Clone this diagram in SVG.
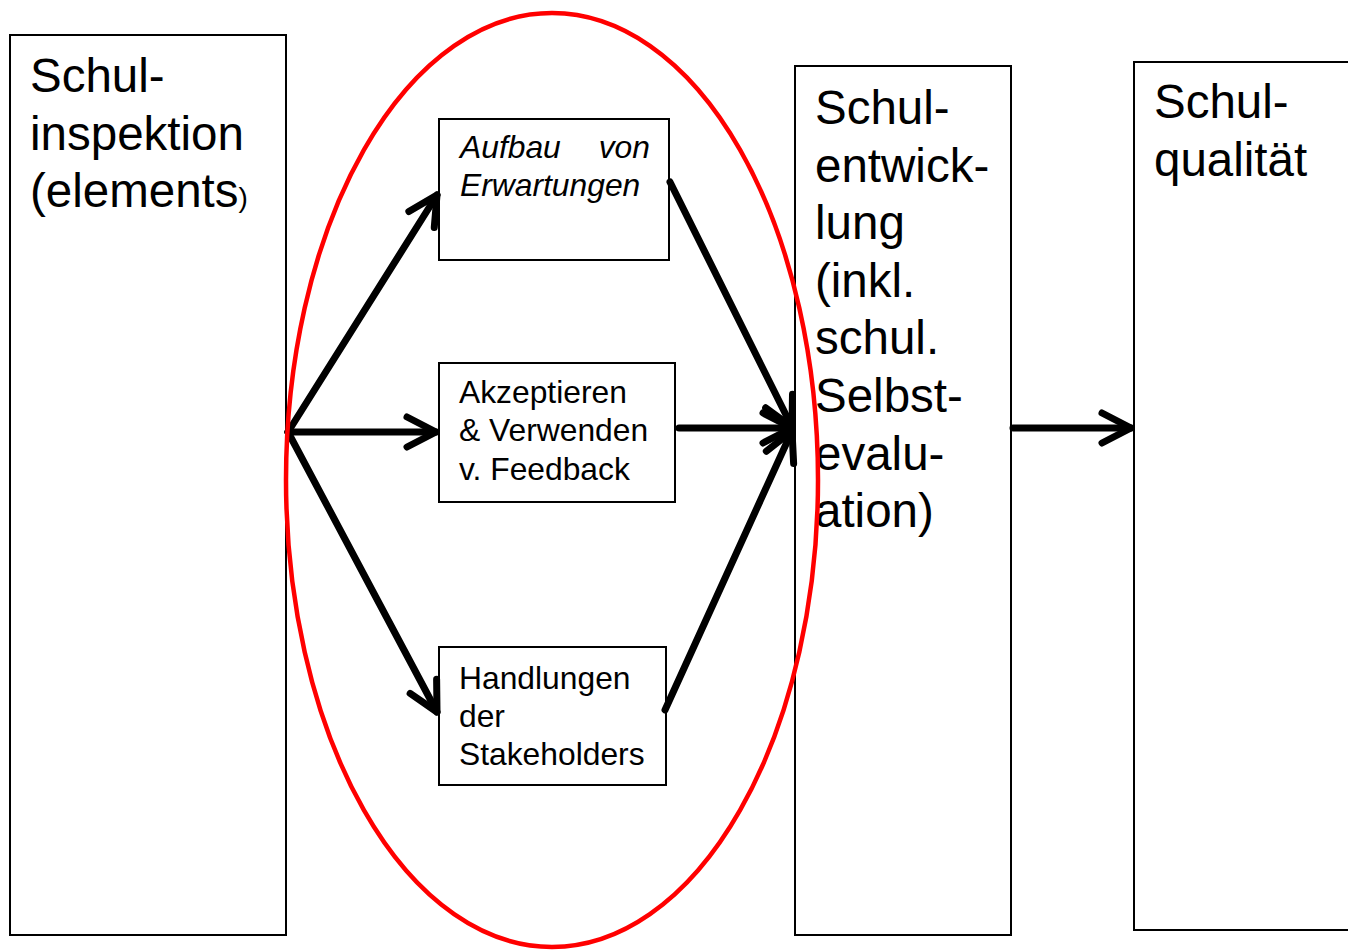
<svg xmlns="http://www.w3.org/2000/svg" width="1348" height="950" viewBox="0 0 1348 950">
  <style>
    .box { fill: #fff; stroke: #000; stroke-width: 2; }
    .big { font-family: "Liberation Sans", Arial, sans-serif; font-size: 47.5px; fill: #000; }
    .small { font-family: "Liberation Sans", Arial, sans-serif; font-size: 31.8px; fill: #000; }
    .conn { fill: none; stroke: #000; stroke-width: 7; stroke-linecap: round; marker-end: url(#chev); }
  </style>
  <defs>
    <marker id="chev" markerUnits="userSpaceOnUse" markerWidth="80" markerHeight="80" refX="0" refY="0" viewBox="-40 -40 80 80" orient="auto" overflow="visible">
      <path d="M-29,-15 L0,0 L-29,15" fill="none" stroke="#000" stroke-width="7" stroke-linecap="round" stroke-linejoin="round"/>
    </marker>
  </defs>
  <rect width="1348" height="950" fill="#fff"/>

  <g id="schulinspektion">
    <rect class="box" x="10" y="35" width="276" height="900"/>
    <text class="big" x="30" y="92">Schul-</text>
    <text class="big" x="30" y="150">inspektion</text>
    <text class="big" x="30" y="207">(elements<tspan font-size="28">)</tspan></text>
  </g>

  <g id="aufbau">
    <rect class="box" x="439" y="119" width="230" height="141"/>
    <text class="small" x="460" y="158" font-style="italic">Aufbau</text>
    <text class="small" x="650" y="158" font-style="italic" text-anchor="end">von</text>
    <text class="small" x="460" y="196" font-style="italic">Erwartungen</text>
  </g>

  <g id="akzeptieren">
    <rect class="box" x="439" y="363" width="236" height="139"/>
    <text class="small" x="459" y="403">Akzeptieren</text>
    <text class="small" x="459" y="441">&amp; Verwenden</text>
    <text class="small" x="459" y="480">v. Feedback</text>
  </g>

  <g id="handlungen">
    <rect class="box" x="439" y="647" width="227" height="138"/>
    <text class="small" x="459" y="689">Handlungen</text>
    <text class="small" x="459" y="727">der</text>
    <text class="small" x="459" y="765">Stakeholders</text>
  </g>

  <g id="schulentwicklung">
    <rect class="box" x="795" y="66" width="216" height="869"/>
    <text class="big" x="815" y="124">Schul-</text>
    <text class="big" x="815" y="182">entwick-</text>
    <text class="big" x="815" y="239">lung</text>
    <text class="big" x="815" y="297">(inkl.</text>
    <text class="big" x="815" y="354">schul.</text>
    <text class="big" x="815" y="412">Selbst-</text>
    <text class="big" x="815" y="470">evalu-</text>
    <text class="big" x="815" y="527">ation)</text>
  </g>

  <g id="schulqualitaet">
    <rect class="box" x="1134" y="62" width="230" height="868"/>
    <text class="big" x="1154" y="118">Schul-</text>
    <text class="big" x="1154" y="176">qualität</text>
  </g>

  <g id="connectors">
    <line class="conn" x1="288" y1="432" x2="437" y2="195"/>
    <line class="conn" x1="288" y1="432" x2="436" y2="432"/>
    <line class="conn" x1="288" y1="432" x2="437" y2="712"/>
    <line class="conn" x1="670" y1="182" x2="792" y2="427"/>
    <line class="conn" x1="679" y1="428" x2="792" y2="428"/>
    <line class="conn" x1="665" y1="710" x2="792" y2="431"/>
    <line class="conn" x1="1013" y1="428" x2="1131" y2="428"/>
  </g>

  <g id="focus-ellipse">
    <ellipse cx="552" cy="480" rx="266" ry="467" fill="none" stroke="#f00" stroke-width="4.5"/>
  </g>
</svg>
